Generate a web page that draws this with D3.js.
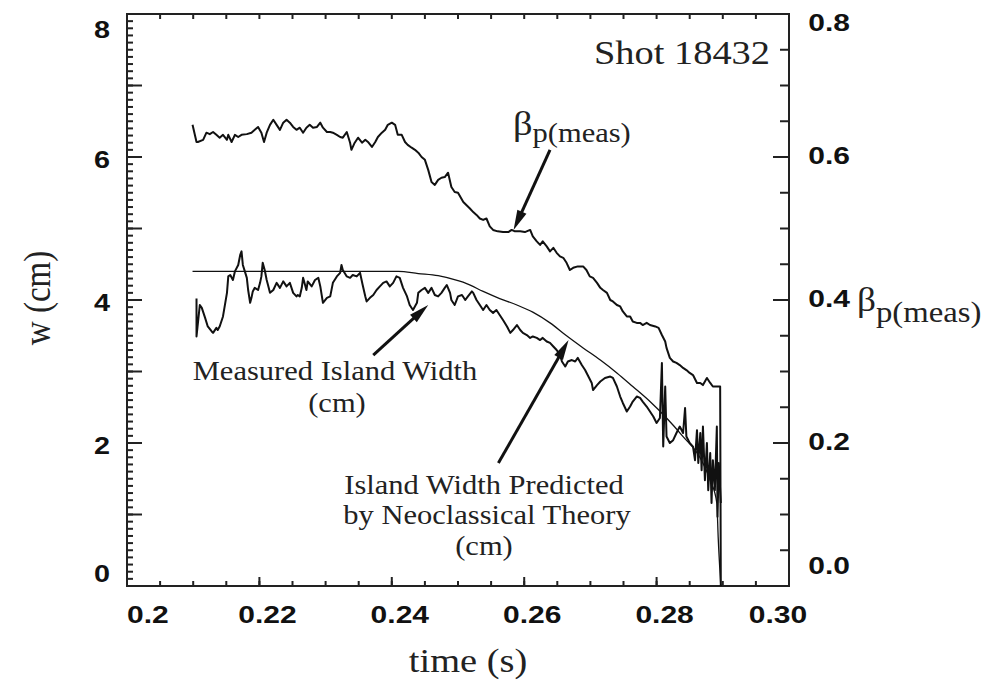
<!DOCTYPE html>
<html>
<head>
<meta charset="utf-8">
<script src="https://cdn.jsdelivr.net/npm/d3@7"></script>
<style>
  body { margin: 0; background: #fff; }
  svg { display: block; }
  .tk { stroke: #222; stroke-width: 2; }
  .num { font-family: "Liberation Sans", Arial, sans-serif; font-weight: bold; fill: #111; }
  .lab { font-family: "Liberation Serif", "Times New Roman", serif; fill: #222; }
</style>
</head>
<body>
<svg id="chart" width="989" height="686"></svg>
<script>
// ---- data ----
// beta_p(meas), right axis
var betaT = [0.2099,0.2105,0.2107,0.2115,0.2120,0.2125,0.2130,0.2135,0.2140,0.2145,
  0.2151,0.2153,0.2158,0.2163,0.2168,0.2173,0.2181,0.2188,0.2193,0.2198,
  0.2203,0.2207,0.2211,0.2216,0.2221,0.2226,0.2231,0.2236,0.2241,0.2246,
  0.2251,0.2256,0.2261,0.2266,0.2271,0.2276,0.2281,0.2287,0.2292,0.2296,
  0.2302,0.2307,0.2311,0.2317,0.2322,0.2326,0.2332,0.2337,0.2339,0.2344,
  0.2349,0.2355,0.2360,0.2364,0.2370,0.2375,0.2379,0.2385,0.2390,0.2394,
  0.2400,0.2405,0.2409,0.2415,0.2420,0.2424,0.2430,0.2435,0.2440,0.2445,
  0.2450,0.2455,0.2460,0.2465,0.2470,0.2475,0.2480,0.2485,0.2490,0.2495,
  0.2500,0.2508,0.2518,0.2523,0.2528,0.2533,0.2538,0.2543,0.2548,0.2553,
  0.2560,0.2568,0.2576,0.2581,0.2586,0.2594,0.2601,0.2609,0.2613,0.2619,
  0.2624,0.2628,0.2634,0.2639,0.2644,0.2649,0.2654,0.2659,0.2664,0.2669,
  0.2674,0.2681,0.2689,0.2694,0.2699,0.2704,0.2710,0.2715,0.2719,0.2725,
  0.2730,0.2734,0.2740,0.2745,0.2749,0.2755,0.2760,0.2764,0.2770,0.2775,
  0.2779,0.2785,0.2790,0.2798,0.2803,0.2808,0.2813,0.2815,0.2820,0.2825,
  0.2830,0.2835,0.2840,0.2845,0.2850,0.2855,0.2861,0.2866,0.2870,0.2876,
  0.2881,0.2885,0.2891,0.2896,0.2897];
var betaV = [0.645,0.621,0.621,0.624,0.634,0.632,0.635,0.631,0.627,0.631,
  0.624,0.631,0.621,0.631,0.628,0.631,0.632,0.634,0.638,0.642,
  0.634,0.621,0.634,0.645,0.652,0.645,0.638,0.648,0.652,0.648,
  0.642,0.638,0.641,0.634,0.641,0.645,0.641,0.642,0.648,0.641,
  0.635,0.635,0.634,0.631,0.628,0.627,0.635,0.620,0.610,0.620,
  0.627,0.620,0.624,0.621,0.614,0.621,0.628,0.634,0.638,0.645,
  0.648,0.645,0.631,0.631,0.621,0.617,0.613,0.610,0.606,0.600,
  0.596,0.582,0.565,0.561,0.568,0.571,0.572,0.578,0.558,0.551,
  0.550,0.537,0.528,0.523,0.519,0.514,0.512,0.514,0.503,0.498,
  0.496,0.495,0.495,0.498,0.496,0.496,0.495,0.498,0.489,0.482,
  0.477,0.482,0.475,0.468,0.473,0.466,0.461,0.459,0.452,0.442,
  0.445,0.447,0.447,0.442,0.433,0.431,0.424,0.417,0.414,0.410,
  0.400,0.398,0.393,0.391,0.384,0.377,0.377,0.370,0.368,0.368,
  0.365,0.368,0.365,0.363,0.361,0.351,0.342,0.333,0.319,0.314,
  0.312,0.309,0.305,0.302,0.298,0.295,0.284,0.284,0.281,0.291,
  0.284,0.279,0.279,0.279,0.0];

// measured island width (cm), left axis
var wMeasT = [0.2105,0.2105,0.2110,0.2113,0.2118,0.2122,0.2128,0.2130,0.2135,0.2137,
  0.2140,0.2145,0.2151,0.2153,0.2156,0.2160,0.2163,0.2168,0.2171,0.2173,
  0.2175,0.2178,0.2181,0.2183,0.2186,0.2188,0.2190,0.2193,0.2198,0.2201,
  0.2203,0.2205,0.2208,0.2211,0.2213,0.2216,0.2221,0.2226,0.2231,0.2236,
  0.2241,0.2246,0.2251,0.2256,0.2258,0.2261,0.2264,0.2266,0.2269,0.2271,
  0.2273,0.2279,0.2284,0.2289,0.2292,0.2296,0.2302,0.2307,0.2311,0.2317,
  0.2322,0.2324,0.2326,0.2332,0.2337,0.2341,0.2347,0.2352,0.2356,0.2360,
  0.2362,0.2367,0.2372,0.2377,0.2382,0.2387,0.2392,0.2397,0.2402,0.2407,
  0.2412,0.2417,0.2423,0.2427,0.2432,0.2438,0.2440,0.2445,0.2450,0.2455,
  0.2460,0.2465,0.2470,0.2475,0.2480,0.2483,0.2488,0.2490,0.2495,0.2500,
  0.2506,0.2511,0.2515,0.2521,0.2523,0.2528,0.2533,0.2538,0.2543,0.2548,
  0.2553,0.2558,0.2563,0.2568,0.2574,0.2579,0.2583,0.2589,0.2594,0.2598,
  0.2604,0.2609,0.2613,0.2619,0.2624,0.2628,0.2634,0.2639,0.2644,0.2649,
  0.2654,0.2657,0.2662,0.2666,0.2672,0.2677,0.2681,0.2687,0.2692,0.2697,
  0.2702,0.2704,0.2710,0.2715,0.2722,0.2730,0.2734,0.2740,0.2745,0.2749,
  0.2755,0.2760,0.2764,0.2770,0.2775,0.2779,0.2785,0.2790,0.2795,0.2800,
  0.2805,0.2808,0.2810,0.2813,0.2815,0.2820,0.2825,0.2830,0.2835,0.2840,
  0.2843,0.2845,0.2850,0.2855,0.2858,0.2861,0.2863,0.2866,0.2868,0.2870,
  0.2873,0.2876,0.2878,0.2881,0.2883,0.2885,0.2888,0.2891,0.2892,0.2894,
  0.2897];
var wMeasV = [4.02,3.49,3.93,3.89,3.75,3.63,3.56,3.54,3.61,3.58,
  3.63,3.77,4.10,4.33,4.35,4.28,4.40,4.49,4.63,4.68,
  4.49,4.40,4.31,4.14,3.96,4.03,4.12,4.17,4.14,4.24,
  4.33,4.52,4.42,4.28,4.21,4.10,4.14,4.24,4.17,4.26,
  4.19,4.24,4.10,4.05,4.07,4.05,4.17,4.31,4.21,4.14,
  4.26,4.19,4.28,4.31,4.19,3.96,4.03,4.05,4.24,4.33,
  4.38,4.49,4.42,4.33,4.31,4.35,4.33,4.38,4.21,4.05,
  3.98,4.03,4.07,4.14,4.19,4.24,4.26,4.19,4.24,4.33,
  4.31,4.17,4.05,3.93,3.86,3.96,4.10,4.14,4.17,4.10,
  4.17,4.07,4.05,4.10,4.17,4.21,4.10,4.00,3.93,4.05,
  4.07,4.00,4.05,4.12,4.10,4.00,3.93,3.86,3.93,3.86,
  3.82,3.86,3.79,3.72,3.63,3.54,3.58,3.65,3.58,3.54,
  3.51,3.47,3.49,3.47,3.44,3.47,3.42,3.40,3.35,3.30,
  3.23,3.14,3.07,3.14,3.16,3.14,3.19,3.09,3.02,2.93,
  2.84,2.74,2.81,2.86,2.91,2.93,2.91,2.79,2.65,2.56,
  2.44,2.51,2.58,2.65,2.63,2.58,2.51,2.44,2.37,2.28,
  2.35,3.12,1.95,2.79,2.09,2.00,2.04,2.14,2.23,2.14,
  2.49,2.09,2.00,1.95,1.76,2.18,1.72,2.14,1.62,2.23,
  1.48,2.00,1.34,1.86,1.16,1.76,1.34,2.23,0.97,1.72,
  1.16];

// island width predicted by neoclassical theory (cm), left axis
var wTheoT = [0.2099,0.2410,0.2440,0.2470,0.2500,0.2513,0.2538,0.2563,0.2589,0.2613,
  0.2639,0.2664,0.2689,0.2715,0.2740,0.2764,0.2790,0.2815,0.2840,0.2866,
  0.2881,0.2891,0.2893,0.2897];
var wTheoV = [4.40,4.40,4.37,4.34,4.27,4.23,4.12,4.02,3.93,3.83,
  3.68,3.50,3.33,3.16,2.98,2.79,2.58,2.35,2.09,1.79,
  1.48,1.16,0.69,0];

// ticks / labels
var xLabelTicks = [0.2, 0.22, 0.24, 0.26, 0.28, 0.30];
var xLabels = ["0.2", "0.22", "0.24", "0.26", "0.28", "0.30"];
var wLabelTicks = [0, 2, 4, 6, 8];
var wLabels = ["0", "2", "4", "6", "8"];
var betaLabelTicks = [0, 0.2, 0.4, 0.6, 0.8];
var betaLabels = ["0.0", "0.2", "0.4", "0.6", "0.8"];

// annotation arrows (time, w in cm)
var arrowTail = [[0.2639, 6.10], [0.2372, 3.23], [0.2561, 1.72]];
var arrowTip  = [[0.2584, 4.98], [0.2455, 3.93], [0.2667, 3.44]];

// ---- layout ----
var L = 127, R = 789, T = 14, B = 586;
var svg = d3.select("#chart");

var x = d3.scaleLinear().domain([0.2, 0.3]).range([L, R]);
var yW = d3.scaleLinear().domain([0, 8]).range([B, T]);
var yB = d3.scaleLinear().domain([0, 0.8]).range([B, T]);

var xMinor = d3.range(0, 21).map(function (i) { return 0.2 + i * 0.005; });
var wMinor = d3.range(0, 81).map(function (i) { return i / 10; });
var wMajor = d3.range(0, 9);
var bMinor = d3.range(0, 17).map(function (i) { return i * 0.05; });

// tick marks, all pointing into the plot
var tg = svg.append("g");
function hTicks(vals, scale, x0, len) {
  tg.selectAll(null).data(vals).enter().append("line").attr("class", "tk")
    .attr("x1", x0).attr("x2", x0 + len)
    .attr("y1", function (d) { return scale(d); })
    .attr("y2", function (d) { return scale(d); });
}
function vTicks(vals, scale, y0, len) {
  tg.selectAll(null).data(vals).enter().append("line").attr("class", "tk")
    .attr("y1", y0).attr("y2", y0 + len)
    .attr("x1", function (d) { return scale(d); })
    .attr("x2", function (d) { return scale(d); });
}
vTicks(xMinor, x, B + 1, -6);
vTicks(xLabelTicks, x, B + 1, -10);
vTicks(xMinor, x, T, 5);
hTicks(wMinor, yW, L, 6);
hTicks(wMajor, yW, L, 15);
hTicks(bMinor, yB, R, -9);
hTicks([0.2, 0.4, 0.6], yB, R, -16);

svg.append("rect")
  .attr("x", L).attr("y", T).attr("width", R - L).attr("height", B - T)
  .attr("fill", "none").attr("stroke", "#222").attr("stroke-width", 2);

// text helper (source lettering is slightly wide, hence the x stretch)
function txt(px, py, str, cls, size, sx, anchor) {
  return svg.append("text").attr("class", cls)
    .attr("text-anchor", anchor || "start")
    .attr("font-size", size)
    .attr("transform", "translate(" + px + "," + py + ") scale(" + sx + ",1)")
    .text(str);
}

// x tick labels
xLabelTicks.forEach(function (v, i) {
  var last = xLabelTicks.length - 1;
  if (i === 0) txt(x(v), 623, xLabels[i], "num", 24, 1.25, "start");
  else if (i === last) txt(x(v) - 11, 623, xLabels[i], "num", 24, 1.25, "middle");
  else txt(x(v) + 8, 623, xLabels[i], "num", 24, 1.25, "middle");
});
// left tick labels
wLabelTicks.forEach(function (v, i) {
  var py = yW(v) + 11;
  if (v === 8) py = 38;
  if (v === 0) py = 582;
  txt(110, py, wLabels[i], "num", 24, 1.2, "end");
});
// right tick labels
betaLabelTicks.forEach(function (v, i) {
  var py = yB(v) + 7;
  if (i === betaLabelTicks.length - 1) py = 31;
  if (i === 0) py = 574;
  txt(850, py, betaLabels[i], "num", 24, 1.25, "end");
});

// ---- curves ----
var lineW = d3.line().x(function (d) { return x(d[0]); }).y(function (d) { return yW(d[1]); });
var lineB = d3.line().x(function (d) { return x(d[0]); }).y(function (d) { return yB(d[1]); });

svg.append("path").datum(d3.zip(wTheoT, wTheoV))
  .attr("d", lineW.curve(d3.curveMonotoneX))
  .attr("fill", "none").attr("stroke", "#111").attr("stroke-width", 1.3);
lineW.curve(d3.curveLinear);

svg.append("path").datum(d3.zip(wMeasT, wMeasV))
  .attr("d", lineW)
  .attr("fill", "none").attr("stroke", "#111").attr("stroke-width", 2)
  .attr("stroke-linejoin", "round");

svg.append("path").datum(d3.zip(betaT, betaV))
  .attr("d", lineB)
  .attr("fill", "none").attr("stroke", "#111").attr("stroke-width", 2)
  .attr("stroke-linejoin", "round");

// ---- arrows ----
arrowTail.forEach(function (a, i) {
  var x1 = x(a[0]), y1 = yW(a[1]), x2 = x(arrowTip[i][0]), y2 = yW(arrowTip[i][1]);
  var dx = x2 - x1, dy = y2 - y1, len = Math.sqrt(dx * dx + dy * dy);
  var ux = dx / len, uy = dy / len, hl = 20, hw = 5;
  var bx = x2 - ux * hl, by = y2 - uy * hl;
  svg.append("line").attr("x1", x1).attr("y1", y1).attr("x2", bx + ux * 2).attr("y2", by + uy * 2)
    .attr("stroke", "#111").attr("stroke-width", 3);
  svg.append("path")
    .attr("d", "M" + x2 + "," + y2 + "L" + (bx - uy * hw) + "," + (by + ux * hw) +
      "L" + (bx + uy * hw) + "," + (by - ux * hw) + "Z")
    .attr("fill", "#111");
});

// ---- labels ----
txt(770, 64, "Shot 18432", "lab", 34, 1.13, "end");
txt(468, 672, "time (s)", "lab", 34, 1.13, "middle");
svg.append("text").attr("class", "lab").attr("text-anchor", "middle").attr("font-size", 33)
  .attr("transform", "translate(50,298) scale(1.13,1) rotate(-90)").text("w (cm)");

txt(335, 380, "Measured Island Width", "lab", 27, 1.13, "middle");
txt(337, 412, "(cm)", "lab", 27, 1.13, "middle");
txt(484, 494, "Island Width Predicted", "lab", 27, 1.13, "middle");
txt(487, 524, "by Neoclassical Theory", "lab", 27, 1.13, "middle");
txt(484, 555, "(cm)", "lab", 27, 1.13, "middle");

var bTop = txt(513, 135, "", "lab", 34, 1.13, "start");
bTop.append("tspan").text("β");
bTop.append("tspan").attr("font-size", 27).attr("dy", 7).text("p(meas)");

var bRight = txt(857, 311, "", "lab", 33, 1.13, "start");
bRight.append("tspan").text("β");
bRight.append("tspan").attr("font-size", 29).attr("dy", 11).text("p(meas)");
</script>
</body>
</html>
